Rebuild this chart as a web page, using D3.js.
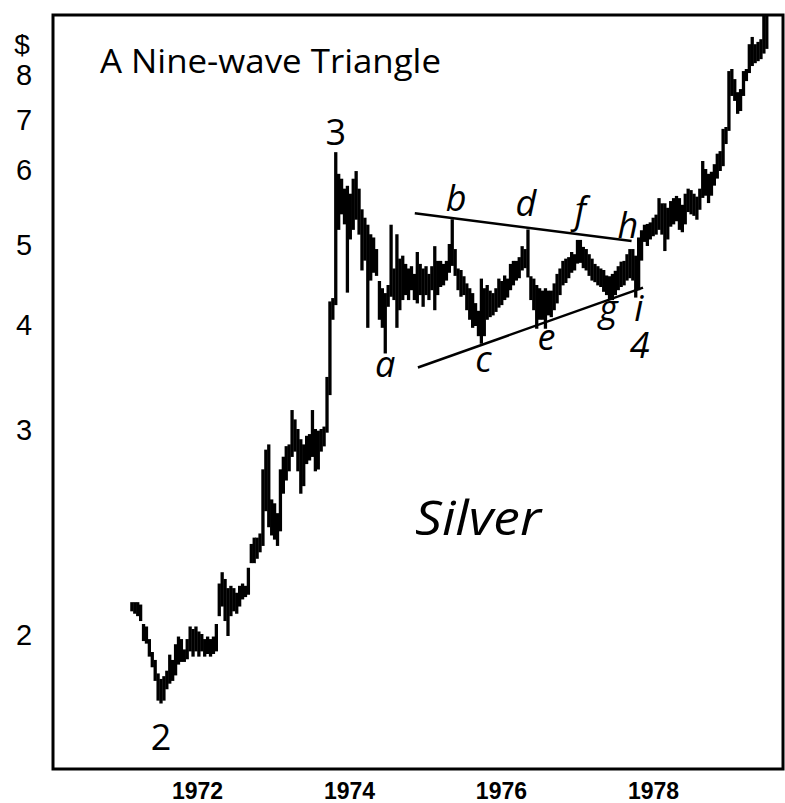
<!DOCTYPE html>
<html>
<head>
<meta charset="utf-8">
<script src="https://cdn.jsdelivr.net/npm/d3@7"></script>
<style>
  body { margin: 0; background: #fff; }
  svg text { fill: #000; }
</style>
</head>
<body>
<svg id="chart" width="785" height="803"></svg>
<script>
// price ticks on the left, years along the bottom
const yTicks = [2, 3, 4, 5, 6, 7, 8];
const xTickYears = [1972, 1974, 1976, 1978];

// two-week bars, first one in late Feb 1971
const firstBar = new Date(1971, 1, 22);

const high = [
  2.13, 2.13, 2.13, 2.12, 2.04, 2.03, 1.98, 1.93, 1.90, 1.85,
  1.83, 1.84, 1.86, 1.92, 1.90, 1.96, 1.99, 1.98, 1.94, 1.98,
  2.03, 2.02, 2.03, 2.01, 2.00, 1.98, 1.99, 1.98, 1.99, 2.04,
  2.21, 2.26, 2.23, 2.19, 2.20, 2.19, 2.17, 2.20, 2.21, 2.20,
  2.28, 2.39, 2.42, 2.42, 2.44, 2.77, 2.88, 2.91, 2.61, 2.59,
  2.54, 2.77, 2.84, 2.90, 2.91, 3.16, 3.08, 3.00, 2.94, 2.91,
  2.96, 2.97, 3.16, 3.00, 2.99, 3.00, 3.02, 3.46, 4.26, 4.30,
  6.32, 5.93, 5.86, 5.72, 5.76, 5.65, 5.86, 5.97, 5.72, 5.44,
  5.33, 5.24, 5.12, 5.08, 4.93, 4.51, 4.42, 4.36, 4.46, 5.24,
  4.67, 5.12, 4.80, 4.84, 4.73, 4.67, 4.70, 4.60, 4.89, 4.73,
  4.67, 4.70, 4.60, 4.70, 4.97, 4.77, 4.77, 4.73, 4.77, 5.00,
  5.31, 4.93, 4.67, 4.65, 4.57, 4.48, 4.42, 4.36, 4.24, 4.15,
  4.54, 4.42, 4.46, 4.39, 4.36, 4.42, 4.54, 4.51, 4.58, 4.54,
  4.73, 4.77, 4.77, 4.82, 4.97, 4.93, 5.18, 4.57, 4.54, 4.46,
  4.42, 4.39, 4.42, 4.39, 4.39, 4.48, 4.60, 4.67, 4.77, 4.80,
  4.82, 4.89, 4.86, 5.05, 5.05, 4.96, 4.93, 4.86, 4.80, 4.73,
  4.70, 4.67, 4.65, 4.58, 4.57, 4.60, 4.64, 4.70, 4.76, 4.77,
  4.86, 4.93, 4.93, 4.84, 5.08, 5.17, 5.24, 5.25, 5.27, 5.33,
  5.37, 5.59, 5.52, 5.52, 5.46, 5.55, 5.59, 5.62, 5.59, 5.50,
  5.65, 5.72, 5.70, 5.65, 5.61, 5.72, 6.15, 6.00, 5.93, 5.96,
  6.09, 6.29, 6.34, 6.79, 6.83, 8.07, 8.12, 7.88, 7.58, 7.65,
  8.07, 8.12, 8.74, 8.93, 8.74, 8.80, 8.87, 9.56, 9.64
];

const low = [
  2.10, 2.09, 2.08, 2.06, 1.98, 1.97, 1.92, 1.88, 1.83, 1.76,
  1.75, 1.76, 1.80, 1.82, 1.83, 1.85, 1.89, 1.90, 1.90, 1.91,
  1.94, 1.92, 1.94, 1.92, 1.94, 1.92, 1.93, 1.92, 1.93, 1.94,
  2.08, 2.12, 2.06, 2.00, 2.08, 2.10, 2.09, 2.12, 2.15, 2.16,
  2.17, 2.31, 2.31, 2.33, 2.36, 2.39, 2.56, 2.48, 2.44, 2.42,
  2.39, 2.46, 2.65, 2.72, 2.77, 2.85, 2.88, 2.77, 2.65, 2.69,
  2.81, 2.83, 2.85, 2.77, 2.78, 2.88, 2.91, 2.99, 3.31, 4.07,
  4.24, 5.20, 5.40, 5.27, 4.39, 5.08, 5.20, 5.33, 5.14, 4.67,
  4.80, 3.98, 4.54, 4.64, 4.60, 4.07, 3.98, 3.71, 4.22, 4.34,
  4.30, 3.98, 4.18, 4.30, 4.36, 4.30, 4.42, 4.30, 4.26, 4.36,
  4.22, 4.36, 4.30, 4.42, 4.18, 4.36, 4.46, 4.48, 4.54, 4.64,
  4.73, 4.60, 4.42, 4.34, 4.36, 4.18, 4.07, 3.98, 4.00, 3.89,
  3.81, 3.89, 4.07, 4.10, 4.12, 4.16, 4.21, 4.24, 4.30, 4.33,
  4.42, 4.48, 4.54, 4.57, 4.67, 4.70, 4.58, 4.30, 4.18, 3.97,
  4.07, 4.07, 3.97, 4.12, 4.10, 4.18, 4.26, 4.36, 4.48, 4.51,
  4.57, 4.64, 4.67, 4.76, 4.77, 4.70, 4.67, 4.60, 4.54, 4.52,
  4.48, 4.46, 4.40, 4.36, 4.30, 4.30, 4.36, 4.42, 4.46, 4.48,
  4.54, 4.57, 4.54, 4.33, 4.42, 4.80, 5.05, 5.00, 5.08, 5.12,
  5.14, 5.20, 5.14, 4.93, 5.08, 5.24, 5.27, 5.31, 5.20, 5.17,
  5.27, 5.43, 5.40, 5.38, 5.33, 5.46, 5.62, 5.65, 5.55, 5.65,
  5.79, 5.89, 6.00, 6.09, 6.52, 6.79, 7.54, 7.43, 7.15, 7.21,
  7.54, 7.88, 8.07, 8.24, 8.31, 8.36, 8.41, 8.55, 8.67
];

// triangle boundary lines (date, price)
const upperLine = [[new Date(1974, 10, 13), 5.40], [new Date(1977, 8, 20), 5.05]];
const lowerLine = [[new Date(1974, 10, 28), 3.56], [new Date(1977, 10, 14), 4.44]];

// wave labels: text, bar index, which end of the bar
const waveLabels = [
  ["2", 10, "low"], ["3", 70, "high"], ["a", 87, "low"], ["b", 110, "high"],
  ["c", 120, "low"], ["d", 136, "high"], ["e", 142, "low"], ["f", 154, "high"],
  ["g", 165, "low"], ["h", 172, "high"], ["i", 173, "low"], ["4", 173, "low"]
];
const labelStyle = {
  "2": {dx: 0, dy: 47, italic: false}, "3": {dx: 0, dy: -8, italic: false},
  "a": {dx: 0, dy: 25, italic: true}, "b": {dx: 4, dy: -9, italic: true},
  "c": {dx: 2, dy: 29, italic: true}, "d": {dx: -2, dy: -14, italic: true},
  "e": {dx: 1, dy: 22, italic: true}, "f": {dx: 0, dy: -18, italic: true},
  "g": {dx: -4, dy: 22, italic: true}, "h": {dx: -5, dy: -12, italic: true},
  "i": {dx: 3, dy: 24, italic: true}, "4": {dx: 4, dy: 61, italic: true}
};

const barDates = d3.range(high.length).map(i => d3.timeDay.offset(firstBar, 14 * i));

const svg = d3.select("#chart");

const x = d3.scaleTime()
  .domain([new Date(1972, 0, 1), new Date(1978, 0, 1)])
  .range([197, 653]);

// the printed scale is log-like but hand spaced, so a piecewise log scale
const y = d3.scaleLog()
  .domain(yTicks)
  .range([635, 430, 325, 245, 170, 120, 75]);

// frame
svg.append("rect")
  .attr("x", 53).attr("y", 15)
  .attr("width", 730).attr("height", 754)
  .attr("fill", "none")
  .attr("stroke", "#000")
  .attr("stroke-width", 3);

// bars
svg.append("g")
  .selectAll("line")
  .data(barDates)
  .enter()
  .append("line")
  .attr("x1", d => x(d))
  .attr("x2", d => x(d))
  .attr("y1", (d, i) => Math.max(y(high[i]), 15) - 1)
  .attr("y2", (d, i) => y(low[i]) + 1)
  .attr("stroke", "#000")
  .attr("stroke-width", 3.3);

// triangle lines
const line = d3.line().x(d => x(d[0])).y(d => y(d[1]));
[upperLine, lowerLine].forEach(pts => {
  svg.append("path")
    .attr("d", line(pts))
    .attr("fill", "none")
    .attr("stroke", "#000")
    .attr("stroke-width", 2.5);
});

// axes
const yAxis = svg.append("g")
  .attr("transform", "translate(24,0)")
  .call(d3.axisLeft(y).tickValues(yTicks).tickFormat(d3.format("d")).tickSize(0).tickPadding(0));
yAxis.select(".domain").remove();
yAxis.selectAll("text")
  .attr("text-anchor", "middle")
  .style("font-family", "'Liberation Sans', Arial, sans-serif")
  .style("font-size", "29px");

svg.append("text")
  .attr("x", 22).attr("y", 54)
  .attr("text-anchor", "middle")
  .style("font-family", "'Liberation Sans', Arial, sans-serif")
  .style("font-size", "28px")
  .text("$");

const xAxis = svg.append("g")
  .attr("transform", "translate(0,769)")
  .call(d3.axisBottom(x)
    .tickValues(xTickYears.map(yr => new Date(yr, 0, 1)))
    .tickFormat(d3.timeFormat("%Y"))
    .tickSize(0).tickPadding(14));
xAxis.select(".domain").remove();
xAxis.selectAll("text")
  .style("font-family", "'Liberation Sans', Arial, sans-serif")
  .style("font-weight", "bold")
  .style("font-size", "23px");

// titles
svg.append("text")
  .attr("x", 100).attr("y", 73)
  .attr("textLength", 341)
  .attr("lengthAdjust", "spacingAndGlyphs")
  .style("font-family", "'Open Sans', sans-serif")
  .style("font-size", "33px")
  .text("A Nine-wave Triangle");

svg.append("text")
  .attr("x", 415).attr("y", 535)
  .attr("textLength", 126)
  .attr("lengthAdjust", "spacingAndGlyphs")
  .style("font-family", "'Open Sans', sans-serif")
  .style("font-style", "italic")
  .style("font-size", "47px")
  .text("Silver");

// wave labels
svg.append("g")
  .selectAll("text")
  .data(waveLabels)
  .enter()
  .append("text")
  .attr("x", d => x(barDates[d[1]]) + labelStyle[d[0]].dx)
  .attr("y", d => y(d[2] === "high" ? high[d[1]] : low[d[1]]) + labelStyle[d[0]].dy)
  .attr("text-anchor", "middle")
  .style("font-family", "'Open Sans', sans-serif")
  .style("font-style", d => labelStyle[d[0]].italic ? "italic" : "normal")
  .style("font-size", "36px")
  .text(d => d[0]);
</script>
</body>
</html>
